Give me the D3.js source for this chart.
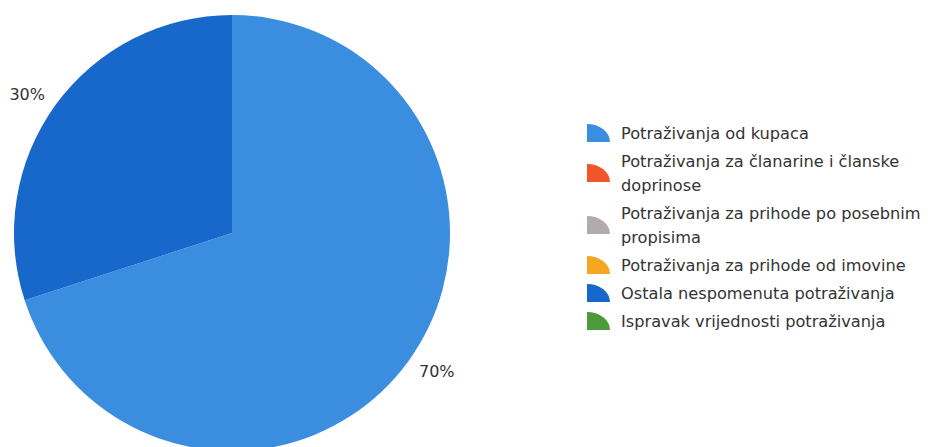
<!DOCTYPE html>
<html>
<head>
<meta charset="utf-8">
<script src="https://cdn.jsdelivr.net/npm/d3@7"></script>
<style>
  body { margin: 0; background: #fff; }
  text { font-family: "DejaVu Sans", Verdana, sans-serif; fill: #333; }
</style>
</head>
<body>
<div id="chart"></div>
<script>
// data
var categories = [
  "Potraživanja od kupaca",
  "Potraživanja za članarine i članske doprinose",
  "Potraživanja za prihode po posebnim propisima",
  "Potraživanja za prihode od imovine",
  "Ostala nespomenuta potraživanja",
  "Ispravak vrijednosti potraživanja"
];
var values = [70, 0, 0, 0, 30, 0];
var colors = ["#3b8de0", "#f0562a", "#b3aaab", "#f6a623", "#1868cc", "#4b9a3c"];

var width = 935, height = 447;
var cx = 232, cy = 233, radius = 218;

var svg = d3.select("#chart")
  .append("svg")
  .attr("width", width)
  .attr("height", height);

var data = categories.map(function(c, i) {
  return {name: c, value: values[i], color: colors[i]};
});

var pie = d3.pie().sort(null).value(function(d) { return d.value; });
var arcs = pie(data);
var total = d3.sum(values);

var arc = d3.arc().innerRadius(0).outerRadius(radius);

var g = svg.append("g")
  .attr("transform", "translate(" + cx + "," + cy + ")");

var shown = arcs.filter(function(d) { return d.data.value > 0; });

g.selectAll("path")
  .data(shown)
  .enter()
  .append("path")
  .attr("d", arc)
  .attr("fill", function(d) { return d.data.color; });

// percent labels outside the slices (a little before the mid angle)
var labelR = 247, labelShift = -0.035;
function labelPos(d) {
  var a = (d.startAngle + d.endAngle) / 2 + labelShift;
  return [Math.sin(a) * labelR, -Math.cos(a) * labelR];
}

g.selectAll("text.pct")
  .data(shown)
  .enter()
  .append("text")
  .attr("class", "pct")
  .attr("x", function(d) { return labelPos(d)[0]; })
  .attr("y", function(d) { return labelPos(d)[1]; })
  .attr("text-anchor", "middle")
  .attr("dominant-baseline", "central")
  .style("font-size", "16px")
  .text(function(d) { return Math.round(d.data.value / total * 100) + "%"; });

// legend
var legendX = 587, textX = 621, wrapWidth = 314, lineH = 24, itemGap = 28;
var legend = svg.append("g");
var y = 133;

data.forEach(function(d) {
  var item = legend.append("g");
  var t = item.append("text")
    .attr("x", textX)
    .style("font-size", "16.2px");
  // wrap the label by measured width
  var words = d.name.split(" "), lines = [], line = [];
  var probe = t.append("tspan");
  words.forEach(function(w) {
    line.push(w);
    probe.text(line.join(" "));
    if (probe.node().getComputedTextLength() > wrapWidth && line.length > 1) {
      line.pop();
      lines.push(line.join(" "));
      line = [w];
    }
  });
  lines.push(line.join(" "));
  probe.remove();

  lines.forEach(function(l, i) {
    t.append("tspan")
      .attr("x", textX)
      .attr("y", y + i * lineH)
      .attr("dominant-baseline", "central")
      .text(l);
  });

  var mid = y + (lines.length - 1) * lineH / 2;
  var w = 23, h = 18;
  item.append("path")
    .attr("transform", "translate(" + legendX + "," + (mid - h / 2) + ")")
    .attr("d", "M0," + h + "L0,0A" + w + "," + h + " 0 0 1 " + w + "," + h + "Z")
    .attr("fill", d.color);

  y += (lines.length - 1) * lineH + itemGap;
});
</script>
</body>
</html>
